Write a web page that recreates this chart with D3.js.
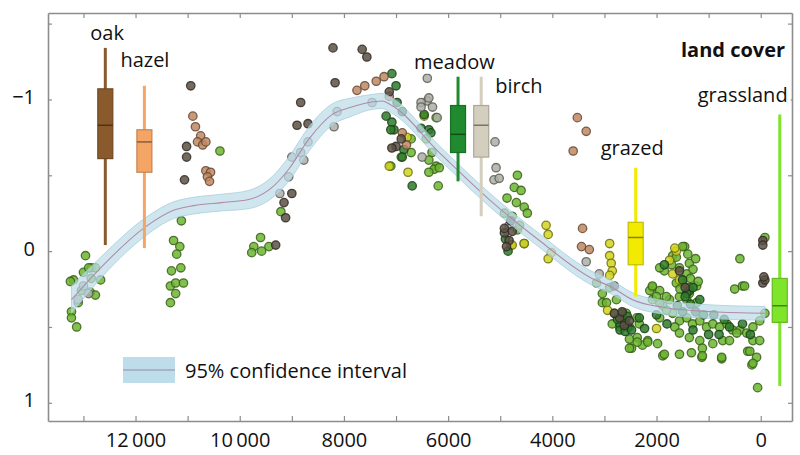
<!DOCTYPE html>
<html lang="en">
<head>
<meta charset="UTF-8">
<script src="https://cdn.jsdelivr.net/npm/d3@7"></script>
<style>
body { margin: 0; background: #fff; }
text { font-family: "Open Sans", sans-serif; }
</style>
</head>
<body>
<svg id="chart" width="800" height="455"></svg>
<script>
// land cover boxplots (years BP, index value)
const coverNames = ["oak", "hazel", "meadow", "birch", "grazed", "grassland"];
const boxYear = [12580, 11830, 5810, 5365, 2400, -365];
const boxLow  = [-1.34, -1.09, -1.15, -1.15, -0.55, -0.90];
const boxQ1   = [-1.07, -0.80, -0.96, -0.96, -0.19, 0.18];
const boxMed  = [-0.83, -0.72, -0.77, -0.83, -0.09, 0.36];
const boxQ3   = [-0.61, -0.52, -0.65, -0.62, 0.09, 0.47];
const boxHigh = [-0.04, -0.02, -0.46, -0.23, 0.30, 0.89];
const boxColor = ["#8a5a2c", "#f4a465", "#1f8a2e", "#d4cebf", "#f2ea00", "#7fe52a"];

// smoothed trend + 95% CI half width
const fitYears  = [13230, 12670, 11810, 11270, 10880, 10350, 9830, 9380, 9060, 8670, 8230, 7850, 7520, 7270, 7080, 6170, 5210, 4250, 3290, 2850, 2460, 1880, 920, -80];
const fitValues = [0.32, 0.11, -0.16, -0.27, -0.30, -0.32, -0.34, -0.42, -0.54, -0.74, -0.90, -0.95, -0.98, -0.99, -0.96, -0.65, -0.34, -0.07, 0.17, 0.24, 0.32, 0.37, 0.40, 0.41];
const fitHalf   = [0.09, 0.07, 0.06, 0.055, 0.055, 0.055, 0.06, 0.07, 0.08, 0.08, 0.07, 0.06, 0.05, 0.05, 0.05, 0.045, 0.045, 0.045, 0.045, 0.045, 0.045, 0.045, 0.045, 0.045];

// sample points [year BP, value], grouped by colour class
const ptsDark = [[10940,-1.09],[11020,-0.69],[11020,-0.62],[11060,-0.47],[8210,-1.34],[7650,-1.33],[7560,-1.28],[8170,-1.11],[8830,-0.98],[8900,-0.83],[8690,-0.84],[9000,-0.38],[9150,-0.32],[9120,-0.22],[9310,-0.04],[7130,-1.05],[6900,-0.74],[7000,-0.69],[7080,-0.68],[-40,-0.07],[-40,0.21],[-80,0.19],[-40,-0.04],[-60,0.17],[4770,-0.13],[4830,-0.07],[4880,-0.03],[4920,-0.12],[4920,-0.15],[4800,-0.20],[2710,0.44],[2620,0.49],[2810,0.41],[2520,0.46],[2810,0.23],[2660,0.40],[1560,0.13],[1450,0.24]];
const ptsBrown = [[10900,-0.89],[10850,-0.82],[10750,-0.76],[10810,-0.72],[10710,-0.70],[10650,-0.72],[10650,-0.53],[10560,-0.52],[10620,-0.49],[10580,-0.46],[3520,-0.88],[3350,-0.79],[3600,-0.66],[3420,-0.15],[3440,-0.03],[3290,-0.01],[6880,-0.78],[7230,-1.15],[7380,-1.12],[7750,-1.06],[7600,-1.09],[7130,-1.02],[6800,-0.70]];
const ptsGray = [[6400,-1.14],[6400,-0.99],[6520,-0.98],[6370,-1.01],[6520,-0.95],[6210,-0.88],[6500,-0.62],[5100,-0.72],[5080,-0.55],[5120,-0.47],[5020,-0.48],[8130,-0.92],[8190,-0.82],[7460,-0.98],[8690,-0.72],[9000,-0.62],[8830,-0.65],[8770,-0.60],[9060,-0.49],[9230,-0.38],[13100,0.32],[13000,0.23],[3350,0.07],[3100,0.15],[4830,-0.17],[6300,-0.95],[12900,0.28]];
const ptsDarkGreen = [[7080,-1.17],[7000,-1.09],[7190,-0.89],[6980,-0.98],[6880,-0.92],[7040,-0.80],[7080,-0.85],[7100,-0.80],[6690,-0.43],[6850,-0.67],[6880,-0.62],[6460,-0.90],[6520,-0.81],[6370,-0.80],[6330,-0.78],[2330,0.44],[2230,0.51],[1850,0.09],[1170,0.32],[1370,0.26],[2650,0.41],[2600,0.46],[2700,0.48],[2550,0.50],[1500,0.19],[1420,0.28],[1300,0.24],[4900,-0.08],[4850,0.00],
  [2700,0.52],[2600,0.53],[2750,0.45],[2480,0.52],[2560,0.43],[1450,0.30],[1350,0.35],[1250,0.40],[1100,0.42],[900,0.42],[700,0.45],[1000,0.55],[800,0.55],[600,0.50],[350,0.48],[200,0.55],[1300,0.52],[1500,0.40],[1600,0.36],[1800,0.48],[2000,0.42]];
const ptsGreen = [
  [12960,0.03],[12850,0.11],[12770,0.11],[13000,0.14],[13190,0.19],[13250,0.20],[12850,0.18],[12670,0.19],[12870,0.27],[12770,0.29],[13040,0.26],[13100,0.34],[13230,0.40],[13230,0.44],[13130,0.50],[12900,0.11],
  [11120,-0.20],[11270,-0.07],[11150,-0.03],[11210,0.02],[11130,0.11],[11310,0.13],[11330,0.23],[11230,0.21],[11080,0.21],[11230,0.28],[11330,0.34],[10380,-0.66],
  [9600,-0.09],[9730,-0.03],[9440,-0.03],[9770,0.01],[9580,0.00],[9210,-0.26],
  [6710,-0.74],[6900,-0.62],[7100,-0.56],[6420,-0.74],[6310,-0.65],[6230,-0.56],[6370,-0.60],[6270,-0.54],[6370,-0.52],[6170,-0.55],[6190,-0.43],[6710,-0.65],[6230,-0.88],
  [4670,-0.50],[4730,-0.42],[4600,-0.40],[4870,-0.35],[4690,-0.32],[4540,-0.29],[4480,-0.25],[4920,-0.25],[4770,-0.23],[4670,-0.14],[4540,-0.05],[4790,-0.04],[4630,-0.17],
  [3150,0.21],[3040,0.34],[2520,0.58],[2370,0.57],[2270,0.62],[2480,0.64],[2170,0.59],[1980,0.61],[1880,0.69],[1560,0.68],[1330,0.67],[1130,0.70],[750,0.71],[2080,0.24],[1880,0.36],[1460,-0.03],[1690,0.03],[1710,0.09],[1620,0.21],[400,0.05],[500,0.25],[350,0.23],[-80,-0.09],[60,0.90],[170,0.75],[250,0.66],[80,0.70],[-80,0.41],
  [1940,0.26],[1750,0.32],[1560,0.30],[1420,0.32],[1370,0.28],[1230,0.34],[1690,0.41],[1560,0.46],[1420,0.44],[1310,0.48],[1170,0.46],[1040,0.50],[920,0.48],[790,0.50],[650,0.48],[540,0.52],[400,0.52],[270,0.54],[150,0.50],[20,0.46],[150,0.59],[20,0.59],[1650,0.50],[1560,0.54],[1370,0.57],[1170,0.59],[1120,0.64],[920,0.61],[730,0.59],[600,0.59],[460,0.54],[1940,0.34],[1810,0.39],[1940,0.44],[2080,0.32],[2130,0.26],
  [2520,0.64],[2370,0.60],[2170,0.60],[1850,0.68],[1120,0.69],[750,0.70],[210,0.66],[150,0.74],
  [1620,0.04],[1500,-0.03],[1560,0.11],[1370,0.08],[1420,0.15],[1850,0.13],[1940,0.11],[1370,0.24],[1500,0.21],[1230,0.23],[2080,0.23],[2000,0.30],[1810,0.30],[310,0.23],
  [1300,0.12],[1250,0.05],[1400,0.02],[1350,0.18],[1200,0.20],[1550,0.25],
  [2810,0.41],[2650,0.44],[2850,0.48],[2710,0.50],[2520,0.50],[2960,0.34],[3040,0.28],[2900,0.24],[2770,0.32],[2580,0.41],[2380,0.44],[2330,0.48]
];
const ptsYellow = [[6790,-0.75],[6770,-0.52],[4120,-0.17],[4080,-0.11],[4020,0.01],[4080,0.05],[4540,-0.05],[2900,-0.05],[2900,0.03],[2870,0.08],[2850,0.13],[2900,0.16],[2940,0.39],[1750,0.06],[1620,0.00],[1690,0.15],[1560,0.19],[2000,0.51],[4770,-0.04],[6460,-0.89],[7130,-0.56],[1650,-0.02]];

const pointGroups = [
  { pts: ptsGreen, fill: "#6cb530" },
  { pts: ptsYellow, fill: "#d2d41e" },
  { pts: ptsDarkGreen, fill: "#2f7a2c" },
  { pts: ptsGray, fill: "#aeaea6" },
  { pts: ptsBrown, fill: "#c08862" },
  { pts: ptsDark, fill: "#5c5044" }
];

const svg = d3.select("#chart");
const x = d3.scaleLinear().domain([13680, -600]).range([48, 792]);
const y = d3.scaleLinear().domain([-1.57, 1.12]).range([13, 421]);
const frame = "#8c8c8c";

// points
pointGroups.forEach(g => {
  svg.append("g").selectAll("circle")
    .data(g.pts)
    .enter().append("circle")
    .attr("cx", d => x(d[0]))
    .attr("cy", d => y(d[1]))
    .attr("r", 4.2)
    .attr("fill", g.fill)
    .attr("fill-opacity", 0.85)
    .attr("stroke", d3.color(g.fill).darker(1.8))
    .attr("stroke-opacity", 0.85)
    .attr("stroke-width", 1.3);
});

// confidence band + trend
const fit = fitYears.map((yr, i) => ({ yr: yr, v: fitValues[i], h: fitHalf[i] }));
const band = d3.area()
  .x(d => x(d.yr))
  .y0(d => y(d.v - d.h))
  .y1(d => y(d.v + d.h))
  .curve(d3.curveMonotoneX);
svg.append("path")
  .datum(fit)
  .attr("d", band)
  .attr("fill", "#bcdde9")
  .attr("fill-opacity", 0.72)
  .attr("stroke", "#a9cddc")
  .attr("stroke-width", 0.8);
svg.append("path")
  .datum(fit)
  .attr("d", d3.line().x(d => x(d.yr)).y(d => y(d.v)).curve(d3.curveMonotoneX))
  .attr("fill", "none")
  .attr("stroke", "#b08ba8")
  .attr("stroke-width", 1.1);

// boxplots
const boxes = coverNames.map((n, i) => ({
  name: n, yr: boxYear[i], lo: boxLow[i], q1: boxQ1[i], med: boxMed[i], q3: boxQ3[i], hi: boxHigh[i], col: boxColor[i]
}));
const bw = 15;
const bg = svg.append("g").selectAll("g").data(boxes).enter().append("g");
bg.append("line")
  .attr("x1", d => x(d.yr)).attr("x2", d => x(d.yr))
  .attr("y1", d => y(d.lo)).attr("y2", d => y(d.hi))
  .attr("stroke", d => d.col)
  .attr("stroke-width", 3);
bg.append("rect")
  .attr("x", d => x(d.yr) - bw / 2)
  .attr("width", bw)
  .attr("y", d => y(d.q1))
  .attr("height", d => y(d.q3) - y(d.q1))
  .attr("fill", d => d.col)
  .attr("stroke", d => d3.color(d.col).darker(0.6))
  .attr("stroke-width", 1.2);
bg.append("line")
  .attr("x1", d => x(d.yr) - bw / 2).attr("x2", d => x(d.yr) + bw / 2)
  .attr("y1", d => y(d.med)).attr("y2", d => y(d.med))
  .attr("stroke", d => d3.color(d.col).darker(1.6))
  .attr("stroke-width", 1.5);

// axes frame
const xTicks = d3.range(0, 13001, 1000);
const yTicks = [-1.5, -1, -0.5, 0, 0.5, 1];
const fmtX = d => d % 2000 ? "" : (d >= 10000 ? Math.floor(d / 1000) + "\u2009000" : String(d));
const fmtY = d => Number.isInteger(d) ? (d < 0 ? "\u2212" + (-d) : String(d)) : "";

const axB = svg.append("g").attr("transform", "translate(0,421)")
  .call(d3.axisBottom(x).tickValues(xTicks).tickFormat(fmtX).tickSizeInner(-5).tickSizeOuter(0).tickPadding(12));
const axT = svg.append("g").attr("transform", "translate(0,13)")
  .call(d3.axisTop(x).tickValues(xTicks).tickFormat("").tickSizeInner(-5).tickSizeOuter(0));
const axL = svg.append("g").attr("transform", "translate(48,0)")
  .call(d3.axisLeft(y).tickValues(yTicks).tickFormat(fmtY).tickSizeInner(-4).tickSizeOuter(0).tickPadding(13));
const axR = svg.append("g").attr("transform", "translate(792,0)")
  .call(d3.axisRight(y).tickValues(yTicks).tickFormat("").tickSizeInner(-4).tickSizeOuter(0));
[axB, axT, axL, axR].forEach(a => {
  a.select(".domain").attr("stroke", frame).attr("stroke-width", 1.6);
  a.selectAll(".tick line").attr("stroke", frame).attr("stroke-width", 1.2);
  a.selectAll("text").attr("fill", "#111").style("font-size", "20px").style("font-family", "'Open Sans', sans-serif");
});
axL.selectAll("text").attr("dy", "0.2em");

// labels with white backing
function label(tx, ty, txt, bold) {
  const t = svg.append("text").attr("x", tx).attr("y", ty).text(txt)
    .style("font-size", bold ? "20px" : "20px").attr("fill", "#111")
    .style("font-weight", bold ? "bold" : "normal");
  const b = t.node().getBBox();
  svg.insert("rect", () => t.node())
    .attr("x", b.x - 3).attr("y", b.y + 1).attr("width", b.width + 6).attr("height", b.height - 2)
    .attr("fill", "#fff");
}
const labelDx = [-15, -24, -44, 14, -35, -82];
const labelDy = [-8, -19, -8, 16, -13, -13];
boxes.forEach((d, i) => label(x(d.yr) + labelDx[i], y(d.lo) + labelDy[i], d.name, false));
label(681, 57, "land cover", true);

// legend
const lg = svg.append("g").attr("transform", "translate(123,357)");
lg.append("rect").attr("width", 52).attr("height", 26).attr("fill", "#bcdde9");
lg.append("line").attr("x1", 0).attr("x2", 52).attr("y1", 13).attr("y2", 13)
  .attr("stroke", "#9a8aa0").attr("stroke-width", 1.1);
lg.append("text").attr("x", 62).attr("y", 21).text("95% confidence interval")
  .style("font-size", "20px").attr("fill", "#111");
</script>
</body>
</html>
